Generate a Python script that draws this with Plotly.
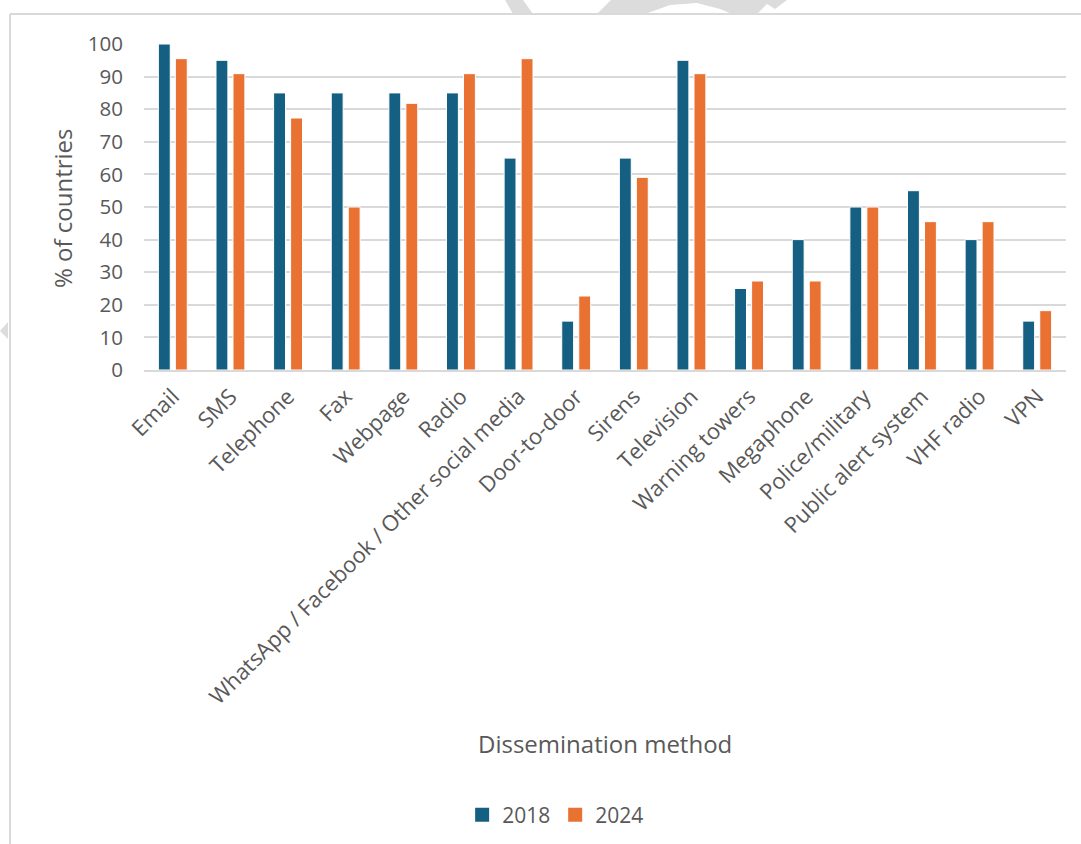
import plotly.graph_objects as go

categories = ["Email", "SMS", "Telephone", "Fax", "Webpage", "Radio",
              "WhatsApp / Facebook / Other social media", "Door-to-door", "Sirens",
              "Television", "Warning towers", "Megaphone", "Police/military",
              "Public alert system", "VHF radio", "VPN"]
values_2018 = [100, 95, 85, 85, 85, 85, 65, 15, 65, 95, 25, 40, 50, 55, 40, 15]
values_2024 = [95.5, 90.9, 77.3, 50.0, 81.8, 90.9, 95.5, 22.7, 59.1, 90.9, 27.3, 27.3, 50.0, 45.5, 45.5, 18.2]
y_ticks = [0, 10, 20, 30, 40, 50, 60, 70, 80, 90, 100]
series_names = ["2018", "2024"]
series_colors = ["#156082", "#E97132"]

W, H = 1081, 844
L, R, T, B = 144, 1066, 44, 370
FONT = "Open Sans"
TXT = "#595959"
GRID = "#d9d9d9"


def px(x):
    return (x - L) / (R - L)


def py(y):
    return (B - y) / (B - T)


def poly(points):
    return "M " + " L ".join(f"{px(a):.5f},{py(b):.5f}" for a, b in points) + " Z"


fig = go.Figure()
for name, vals, col in zip(series_names, [values_2018, values_2024], series_colors):
    fig.add_trace(go.Bar(x=categories, y=vals, name=name, showlegend=False,
                         marker=dict(color=col, line=dict(color="#ffffff", width=1))))
# legend proxies (bigger square keys)
for name, col in zip(series_names, series_colors):
    fig.add_trace(go.Scatter(x=[None], y=[None], mode="markers", name=name,
                             marker=dict(symbol="square", size=14, color=col)))

shapes = [
    # watermark fragments
    dict(type="path", xref="paper", yref="paper", layer="below",
         path=poly([(505, 0), (523, 0), (533, 14), (513, 14)]),
         fillcolor="#dcdcdc", line=dict(width=0)),
    dict(type="path", xref="paper", yref="paper", layer="below",
         path=poly([(597, 14), (611, 0), (787, 0), (775, 9), (767, 4), (757, 14),
                    (732, 14), (720, 9), (697, 3), (670, 5), (645, 14)]),
         fillcolor="#dcdcdc", line=dict(width=0)),
    dict(type="path", xref="paper", yref="paper", layer="below",
         path=poly([(0, 331), (8, 322), (8, 339)]),
         fillcolor="#dcdcdc", line=dict(width=0)),
    # chart frame
    dict(type="line", xref="paper", yref="paper", x0=px(10), x1=px(10), y0=py(14), y1=py(H + 5),
         line=dict(color=GRID, width=2)),
    dict(type="line", xref="paper", yref="paper", x0=px(10), x1=px(W + 5), y0=py(14), y1=py(14),
         line=dict(color=GRID, width=2)),
]

annotations = [
    dict(text="% of countries", xref="paper", yref="paper", x=px(62), y=py(208),
         xanchor="center", yanchor="middle", textangle=-90, showarrow=False,
         font=dict(family=FONT, size=24, color=TXT)),
    dict(text="Dissemination method", xref="paper", yref="paper", x=px(605), y=py(743),
         xanchor="center", yanchor="middle", showarrow=False,
         font=dict(family=FONT, size=24, color=TXT)),
]

fig.update_layout(
    width=W, height=H,
    margin=dict(l=L, r=W - R, t=T, b=H - B, autoexpand=False),
    paper_bgcolor="white", plot_bgcolor="white",
    barmode="group", bargap=0.41, bargroupgap=0.3,
    font=dict(family=FONT, size=18, color=TXT),
    shapes=shapes, annotations=annotations,
    showlegend=True,
    legend=dict(orientation="h", xref="container", yref="container",
                x=0.514, xanchor="center", y=(H - 815) / H, yanchor="middle",
                font=dict(family=FONT, size=21, color=TXT),
                itemwidth=30, traceorder="normal", tracegroupgap=0),
)
fig.update_xaxes(showgrid=False, showline=True, linecolor=GRID, linewidth=2,
                 tickangle=-45, ticks="", tickfont=dict(family=FONT, size=22, color=TXT),
                 ticklabelstandoff=3)
fig.update_yaxes(range=[0, 100], tickvals=y_ticks, showgrid=True, gridcolor=GRID, gridwidth=2,
                 zeroline=False, showline=False, ticks="",
                 tickfont=dict(family=FONT, size=20.5, color=TXT), ticklabelstandoff=20)

fig.write_html("out.html")
